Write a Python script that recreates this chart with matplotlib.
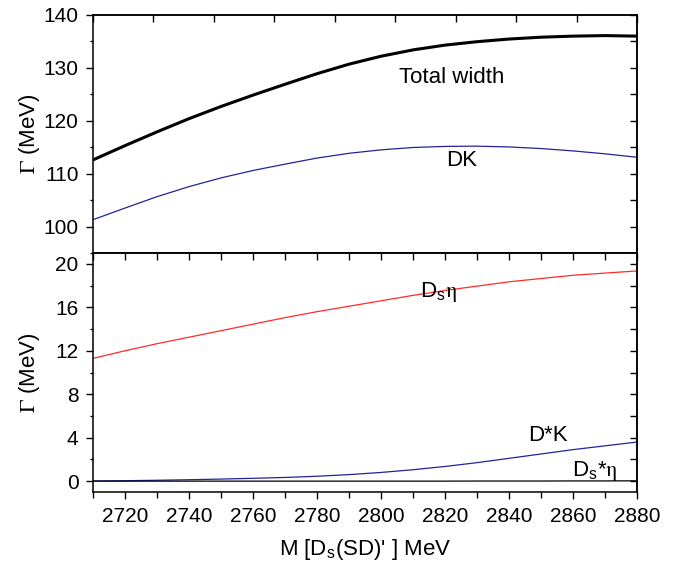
import numpy as np
import matplotlib
matplotlib.use('Agg')
import matplotlib.pyplot as plt

plt.rcParams['font.family'] = ['Liberation Sans', 'DejaVu Sans']
plt.rcParams['mathtext.fontset'] = 'stix'

# mass of the D_s(SD)' state, MeV
mass = [2710, 2720, 2730, 2740, 2750, 2760, 2770, 2780, 2790, 2800,
        2810, 2820, 2830, 2840, 2850, 2860, 2870, 2880]

# partial and total widths, MeV
total = [112.6, 115.3, 117.9, 120.4, 122.7, 124.85, 126.9, 128.9, 130.7, 132.2,
         133.4, 134.3, 134.95, 135.45, 135.8, 136.0, 136.1, 136.0]
dk = [101.3, 103.5, 105.65, 107.55, 109.2, 110.6, 111.8, 112.95, 113.85, 114.5,
      114.95, 115.15, 115.2, 115.05, 114.75, 114.3, 113.75, 113.1]
ds_eta = [11.3, 12.0, 12.65, 13.25, 13.85, 14.45, 15.05, 15.6, 16.1, 16.6,
          17.1, 17.55, 17.95, 18.35, 18.65, 18.95, 19.15, 19.35]
dstar_k = [0.02, 0.04, 0.08, 0.13, 0.19, 0.26, 0.34, 0.45, 0.6, 0.8,
           1.05, 1.35, 1.7, 2.1, 2.5, 2.9, 3.25, 3.6]
dsstar_eta = [0.0, 0.0, 0.0, 0.0, 0.0, 0.0, 0.0, 0.0, 0.0, 0.0,
              0.0, 0.0, 0.01, 0.01, 0.01, 0.02, 0.02, 0.03]

blue = '#23239b'
red = '#ff2a2a'
fs_tick = 15
fs_lab = 16

fig = plt.figure(figsize=(6.86, 5.65), dpi=100)
ax1 = fig.add_axes([0.1356, 0.5522, 0.793, 0.4213])
ax2 = fig.add_axes([0.1356, 0.1292, 0.793, 0.4230])

# upper panel: total width and DK
ax1.plot(mass, total, color='black', lw=2.2)
ax1.plot(mass, dk, color=blue, lw=0.9)
ax1.set_xlim(2710, 2880)
ax1.set_ylim(95, 140)
ax1.set_yticks(np.arange(100, 141, 10))
ax1.set_yticks(np.arange(95, 141, 5), minor=True)
ax1.tick_params(axis='y', which='major', direction='out', length=5, width=1,
                labelsize=fs_tick, pad=5.5)
ax1.tick_params(axis='y', which='minor', direction='out', length=2.5, width=1)
ax1.tick_params(axis='x', which='both', bottom=False, labelbottom=False)
ax1.set_ylabel(r'$\Gamma$ (MeV)', fontsize=fs_lab)
ax1.yaxis.set_label_coords(-0.093, 0.5)
ax1.text(2822.2, 127.1, 'Total width', fontsize=fs_lab, ha='center', va='baseline')
ax1.text(2825.2, 111.4, 'DK', fontsize=fs_lab, ha='center', va='baseline')

top1 = ax1.secondary_xaxis('top')
top1.set_xticks(np.linspace(2710, 2880, 10))
top1.tick_params(direction='in', length=5, width=1, labeltop=False)
right1 = ax1.secondary_yaxis('right')
right1.set_yticks(np.arange(95, 141, 5))
right1.tick_params(direction='in', length=5, width=1, labelright=False)

# lower panel: the small channels
ax2.plot(mass, ds_eta, color=red, lw=0.9)
ax2.plot(mass, dstar_k, color=blue, lw=0.9)
ax2.plot(mass, dsstar_eta, color='black', lw=0.9)
ax2.set_xlim(2710, 2880)
ax2.set_ylim(-1, 21)
ax2.set_xticks(np.arange(2720, 2881, 20))
ax2.set_xticks(np.arange(2710, 2881, 10), minor=True)
ax2.set_yticks(np.arange(0, 21, 4))
ax2.set_yticks(np.arange(0, 21, 2), minor=True)
ax2.tick_params(axis='x', which='major', direction='out', length=5, width=1,
                labelsize=fs_tick, pad=6)
ax2.tick_params(axis='x', which='minor', direction='out', length=4.5, width=1)
ax2.tick_params(axis='y', which='major', direction='out', length=5, width=1,
                labelsize=fs_tick, pad=5.5)
ax2.tick_params(axis='y', which='minor', direction='out', length=2.5, width=1)
ax2.set_ylabel(r'$\Gamma$ (MeV)', fontsize=fs_lab)
ax2.yaxis.set_label_coords(-0.093, 0.5)
ax2.set_xlabel(r"M [D$_\mathregular{s}$(SD)' ] MeV", fontsize=fs_lab, labelpad=8)
ax2.text(2812.2, 16.98, r'D$_\mathregular{s}\mathrm{\eta}$', fontsize=fs_lab,
         ha='left', va='baseline')
ax2.text(2852.2, 3.65, 'D*K', fontsize=fs_lab, ha='center', va='baseline')
ax2.text(2866.9, 0.43, r'D$_\mathregular{s}$*$\mathrm{\eta}$', fontsize=fs_lab,
         ha='center', va='baseline')

top2 = ax2.secondary_xaxis('top')
top2.set_xticks(np.arange(2710, 2881, 10))
top2.tick_params(direction='in', length=5, width=1, labeltop=False)
right2 = ax2.secondary_yaxis('right')
right2.set_yticks(np.arange(0, 21, 2))
right2.tick_params(direction='in', length=5, width=1, labelright=False)

for ax in (ax1, ax2, top1, top2, right1, right2):
    for sp in ax.spines.values():
        sp.set_linewidth(1.1)

fig.savefig('out.png', dpi=100)
